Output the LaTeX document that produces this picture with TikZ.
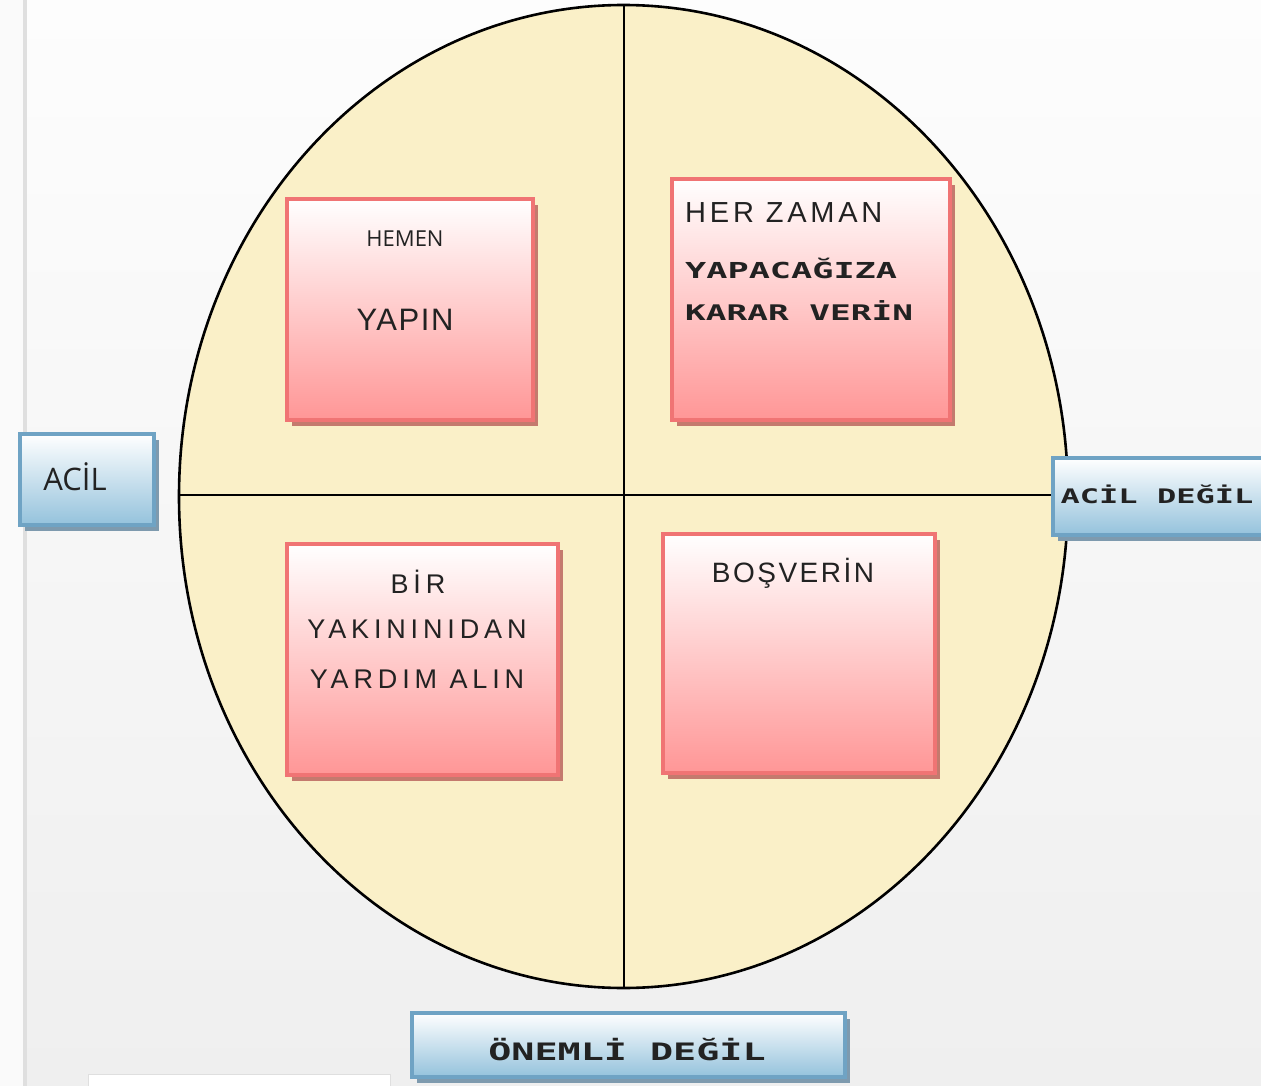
\documentclass[tikz,border=0pt]{standalone}
\usepackage{fontspec}
\setmainfont{Open Sans}
\newfontfamily\arialsp{Liberation Sans}
\newfontfamily\technofont{DejaVu Sans Mono}[FakeStretch=1.6]
\definecolor{bgtop}{HTML}{FDFDFD}
\definecolor{bgbot}{HTML}{EFEFEF}
\definecolor{ovalfill}{HTML}{FAF0C8}
\definecolor{pinkbot}{HTML}{FF9696}
\definecolor{pinkedge}{HTML}{F07474}
\definecolor{pinkshadow}{HTML}{C47A6E}
\definecolor{bluebot}{HTML}{94C2DC}
\definecolor{blueedge}{HTML}{6FA3C4}
\definecolor{blueshadow}{HTML}{7E9AAE}
\definecolor{ink}{HTML}{222222}
\tikzset{
  pinkbox/.style={rectangle, draw=pinkedge, line width=3.5pt, top color=white, bottom color=pinkbot,
    preaction={fill=pinkshadow, transform canvas={shift={(5pt,-6pt)}}}, inner sep=0pt},
  bluebox/.style={rectangle, draw=blueedge, line width=3.5pt, top color=white, bottom color=bluebot,
    preaction={fill=blueshadow, transform canvas={shift={(5pt,-6pt)}}}, inner sep=0pt},
  lbl/.style={text=ink, inner sep=0pt},
  axis/.style={line width=2pt, draw=black}
}
\begin{document}
\begin{tikzpicture}[x=1pt,y=-1pt]
\useasboundingbox (0,0) rectangle (1261,1086);
% background
\shade[top color=bgtop, bottom color=bgbot] (0,0) rectangle (1261,1086);
\fill[white!96!gray] (0,0) rectangle (23,1086);
\fill[gray!25] (23,0) rectangle (27,1086);
% bottom-left partial element
\draw[fill=white, draw=gray!25, line width=1pt] (88,1074) rectangle (390,1090);
% oval
\draw[fill=ovalfill, line width=2.6pt] (623.5,496.5) ellipse [x radius=444.5, y radius=491.5];
\coordinate (otop) at (624,5);
\coordinate (obot) at (624,988);
\coordinate (oleft) at (179,495);
\coordinate (oright) at (1068,495);
\draw[axis] (otop) -- (obot);
\draw[axis] (oleft) -- (oright);
% pink boxes
\node[pinkbox, minimum width=246pt, minimum height=221pt] (tl) at (410,309.5) {};
\node[pinkbox, minimum width=278pt, minimum height=241pt] (tr) at (811,299.5) {};
\node[pinkbox, minimum width=271pt, minimum height=231pt] (bl) at (422.5,659.5) {};
\node[pinkbox, minimum width=272pt, minimum height=239pt] (br) at (799,653.5) {};
% blue boxes
\node[bluebox, minimum width=134pt, minimum height=91pt] (acil) at (87,479.5) {};
\node[bluebox, minimum width=220pt, minimum height=77pt] (acildegil) at (1163,496.5) {};
\node[bluebox, minimum width=433pt, minimum height=64pt] (onemli) at (628.5,1045) {};
% texts
\node[lbl, font=\fontsize{22}{26}\selectfont] (t1) at (405,239) {HEMEN};
\node[lbl, font=\arialsp\addfontfeature{LetterSpace=5}\fontsize{31}{36}\selectfont] (t2) at (405,320) {YAPIN};
\node[lbl, anchor=west, font=\arialsp\addfontfeature{LetterSpace=13}\fontsize{29}{34}\selectfont] (t3) at (685,213) {HER ZAMAN};
\node[lbl, anchor=west, font=\technofont\bfseries\fontsize{22}{26}\selectfont] (t4) at (685,268) {YAPACAĞIZA};
\node[lbl, anchor=west, font=\technofont\bfseries\fontsize{21.5}{25}\selectfont] (t5) at (685,311) {KARAR VERİN};
\node[lbl, font=\arialsp\addfontfeature{LetterSpace=18}\fontsize{27}{32}\selectfont] (t6) at (418,582) {BİR};
\node[lbl, font=\arialsp\addfontfeature{LetterSpace=18}\fontsize{27}{32}\selectfont] (t7) at (417,629) {YAKININIDAN};
\node[lbl, font=\arialsp\addfontfeature{LetterSpace=18}\fontsize{27}{32}\selectfont] (t8) at (417,679) {YARDIM ALIN};
\node[lbl, font=\arialsp\addfontfeature{LetterSpace=9}\fontsize{28}{33}\selectfont] (t9) at (793,573) {BOŞVERİN};
\node[lbl, font=\fontsize{31}{36}\selectfont] (t10) at (75,477) {ACİL};
\node[lbl, font=\technofont\bfseries\fontsize{20}{24}\selectfont] (t11) at (1157,494) {ACİL DEĞİL};
\node[lbl, font=\technofont\bfseries\fontsize{24}{28}\selectfont] (t12) at (627,1050) {ÖNEMLİ DEĞİL};
\end{tikzpicture}
\end{document}
